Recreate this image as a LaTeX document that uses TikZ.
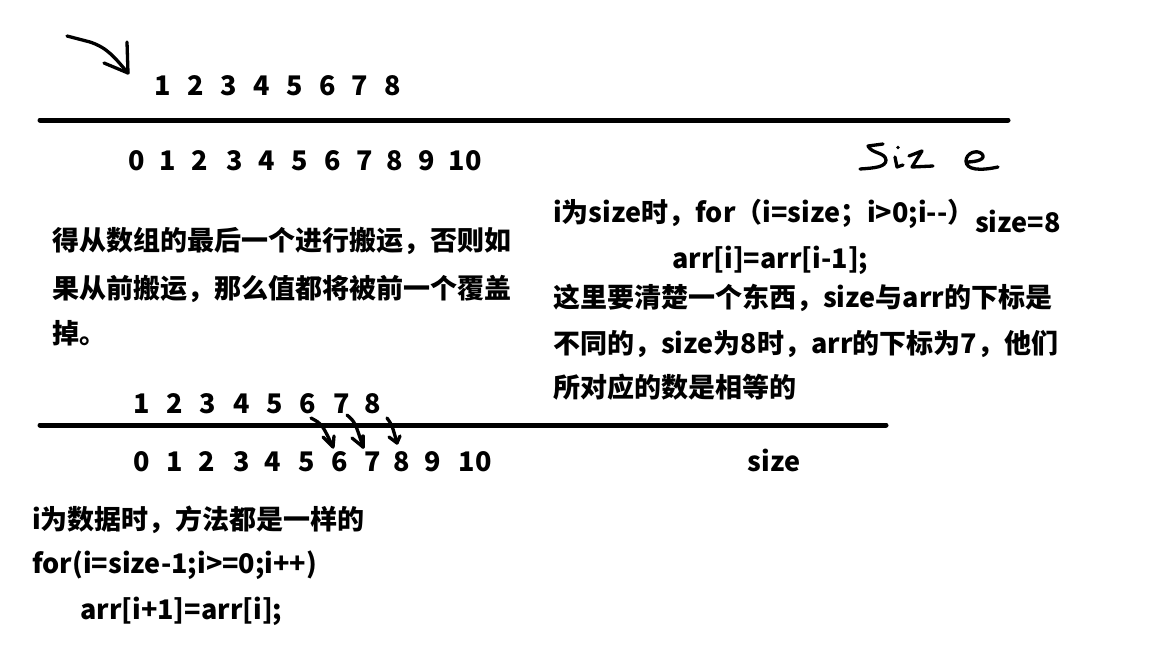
\documentclass[tikz,border=0pt]{standalone}
\usepackage{fontspec}
\setmainfont{Noto Sans CJK SC}
\usepackage{tikz}
\usetikzlibrary{positioning}

\begin{document}
\begin{tikzpicture}[
        x=1pt, y=-1pt,
        every node/.style={font=\fontsize{27}{31}\selectfont\bfseries, inner sep=0pt},
        num/.style={anchor=base},
        txt/.style={anchor=base west},
        bar/.style={line width=5pt, line cap=round},
        ink/.style={line width=3.3pt, line cap=round, line join=round}
    ]
    \useasboundingbox (0,0) rectangle (1152,648);
    % upper half
    \foreach \x [count=\i from 1] in {163,196,229,262,295,328,360,393} {
        \node[num] (t\i) at (\x,95) {\i};
    }
    \draw[bar] (40,120) -- (1008,120);
    \foreach \x [count=\i from 0] in {137,168,200,235,267,300,333,365,395,427,465} {
        \node[num] (ti\i) at (\x,170) {\i};
    }
    \coordinate (ps) at (67,36);
    \coordinate (pt) at (128,73);
    \draw[ink] (ps) -- (90,42) .. controls (108,48) and (115,58) .. (pt);
    \draw[ink] (pt) -- ++(-24,-10);
    \draw[ink] (pt) -- ++(-1,-31);
    % handwritten Size
    \draw[ink] (883,144) -- (868,146) .. controls (872,154) and (885,152) .. (886,160)
        .. controls (886,167) and (875,168) .. (860,169);
    \draw[ink] (895,157) -- (897,167) -- (903,165);
    \fill (898,147.5) circle (1.8pt);
    \draw[ink] (909,156) -- (922,151) -- (912,167) -- (933,166);
    \draw[ink] (966,162) .. controls (978,162) and (986,159) .. (982,154)
        .. controls (977,149) and (966,153) .. (966,161)
        .. controls (966,170) and (980,171) .. (998,167);

    \node[txt] (l1) at (52,250) {得从数组的最后一个进行搬运，否则如};
    \node[txt] (l2) at (52,298) {果从前搬运，那么值都将被前一个覆盖};
    \node[txt] (l3) at (52,343) {掉。};

    \node[txt] (r1) at (553,222) {i为size时，for（i=size；i>0;i-{}-）};
    \node[txt] (r0) at (975,232) {size=8};
    \node[txt] (r2) at (672,268) {arr[i]=arr[i-1];};
    \node[txt] (r3) at (553,307) {这里要清楚一个东西，size与arr的下标是};
    \node[txt] (r4) at (553,353) {不同的，size为8时，arr的下标为7，他们};
    \node[txt] (r5) at (553,397) {所对应的数是相等的};

    % lower half
    \foreach \x [count=\i from 1] in {142,175,208,242,275,308,342,373} {
        \node[num] (b\i) at (\x,413) {\i};
    }
    \draw[bar] (40,425) -- (886,425);
    \foreach \x [count=\i from 0] in {142,175,207,242,273,307,340,373,402,433,475} {
        \node[num] (bi\i) at (\x,471) {\i};
    }
    \node[num] (sz) at (774,471) {size};
    \coordinate (m1s) at (311,418);
    \coordinate (m1t) at (333,447);
    \coordinate (m2s) at (347,415);
    \coordinate (m2t) at (363,447);
    \coordinate (m3s) at (387,418);
    \coordinate (m3t) at (397,443);
    \draw[ink] (m1s) .. controls (322,424) .. (m1t);
    \draw[ink] (m1t) -- ++(-10,-10);
    \draw[ink] (m1t) -- ++(1,-11);
    \draw[ink] (m2s) .. controls (355,422) .. (m2t);
    \draw[ink] (m2t) -- ++(-11,-9);
    \draw[ink] (m2t) -- ++(0,-11);
    \draw[ink] (m3s) .. controls (392,425) .. (m3t);
    \draw[ink] (m3t) -- ++(-8,-6);
    \draw[ink] (m3t) -- ++(3,-7);

    \node[txt] (c1) at (32,529) {i为数据时，方法都是一样的};
    \node[txt] (c2) at (32,573) {for(i=size-1;i>=0;i++)};
    \node[txt] (c3) at (80,619) {arr[i+1]=arr[i];};
\end{tikzpicture}
\end{document}
